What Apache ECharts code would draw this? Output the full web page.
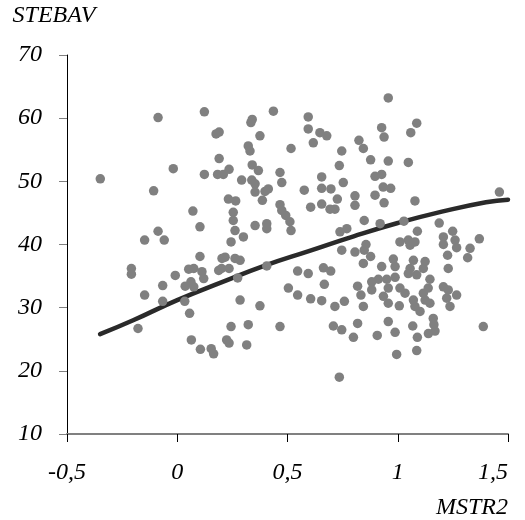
<!DOCTYPE html>
<html>
<head>
<meta charset="utf-8">
<script src="https://cdn.jsdelivr.net/npm/echarts@6/dist/echarts.min.js"></script>
<style>
html,body{margin:0;padding:0;background:#fff;}
#chart{width:525px;height:520px;}
</style>
</head>
<body>
<div id="chart"></div>
<script>
// MSTR2 values (x) of the scattered observations
const mstr2 = [
  -0.087,0.123,0.176,0.19,0.19,-0.018,0.123,0.183,-0.349,-0.107,0.071,0.103,-0.087,-0.148,-0.059,0.103,0.203,
  0.436,0.340,0.334,0.594,0.594,0.647,0.678,0.617,0.375,0.322,0.330,0.516,0.824,0.844,0.746,0.735,0.340,0.368,
  0.235,0.209,0.466,0.292,0.338,0.353,0.474,0.655,0.753,0.655,0.697,0.576,0.413,0.398,0.353,0.232,0.265,0.386,
  0.726,0.806,0.806,0.466,0.474,0.492,0.511,0.516,0.605,0.655,0.693,0.715,0.254,0.254,0.353,0.406,0.406,0.262,
  0.300,0.244,0.738,0.769,0.848,0.746,0.806,0.848,0.217,0.262,0.285,
  0.957,1.086,1.059,0.927,0.938,0.877,0.957,1.048,0.897,0.927,0.934,0.968,0.897,0.938,1.078,1.461,0.920,1.028,
  1.188,1.089,1.249,1.370,1.207,1.207,1.260,1.267,1.328,1.010,1.048,1.056,1.078,0.856,0.877,1.226,1.317,0.980,
  1.071,1.124,
  -0.208,-0.208,-0.009,0.052,0.075,0.112,0.120,0.188,-0.066,0.036,0.062,0.075,-0.148,-0.066,0.034,0.056,-0.178,
  0.064,0.105,0.154,0.165,
  0.201,0.235,0.274,0.406,0.546,0.594,0.663,0.696,0.667,0.504,0.546,0.605,0.655,0.285,0.375,0.715,0.758,0.818,
  0.833,0.844,0.844,0.244,0.322,0.466,0.224,0.235,0.315,0.708,0.746,0.818,0.799,0.735,
  0.927,0.988,1.056,1.048,1.086,1.116,1.229,1.146,0.988,0.950,0.912,0.882,0.882,0.957,0.935,0.957,1.010,1.033,
  1.007,1.071,1.078,1.101,1.116,1.138,1.124,1.146,1.207,1.229,1.267,1.222,1.237,0.957,0.988,0.907,1.068,1.089,
  1.161,1.164,1.169,1.139,1.388,0.995,1.086
];
// STEBAV values (y) of the same observations
const stebav = [
  60.1,61.0,57.5,57.8,53.6,52.0,51.1,51.1,50.4,48.5,45.3,42.8,42.1,40.7,40.7,38.1,37.8,
  61.1,59.8,59.3,60.2,58.3,57.7,57.2,56.1,57.2,55.6,54.8,55.2,56.5,55.2,54.8,52.5,52.6,51.7,
  51.9,51.1,51.4,50.2,50.2,49.6,49.8,50.7,49.8,48.9,48.8,48.6,48.8,48.4,48.3,47.2,46.9,47.0,
  47.2,47.7,46.2,46.3,45.4,44.6,43.6,42.2,45.9,46.4,45.6,45.6,45.1,43.8,43.0,43.3,42.5,42.2,
  41.2,40.4,42.0,42.5,43.8,39.1,38.8,39.1,38.0,37.8,37.5,
  63.2,59.2,57.7,58.5,57.0,53.4,53.2,53.0,50.8,51.1,49.1,48.9,47.8,46.6,46.9,48.3,43.3,43.7,
  43.4,42.1,42.1,40.9,41.2,40.0,40.7,39.5,39.4,40.4,40.7,39.9,40.4,40.0,38.1,38.3,37.9,37.7,
  37.5,37.3,
  36.2,35.3,35.1,36.1,36.2,35.7,34.6,35.9,33.5,33.4,34.1,33.3,32.0,31.0,31.0,29.1,26.7,
  24.9,23.4,23.5,22.7,
  36.2,36.2,34.7,36.6,35.8,35.4,36.3,35.8,33.7,33.1,32.0,31.4,31.1,31.2,30.3,30.2,31.0,33.4,
  32.0,30.2,37.0,27.0,27.3,27.0,24.9,24.4,24.1,27.1,26.5,27.5,25.3,19.0,
  36.5,36.5,36.2,35.4,35.2,36.2,36.2,34.5,34.8,34.5,34.5,34.1,32.8,33.1,31.8,30.7,33.1,32.3,
  30.3,31.2,30.2,29.4,32.3,33.1,31.2,30.7,33.3,32.8,32.0,31.5,30.2,27.8,26.1,25.6,27.1,25.3,
  28.3,27.3,26.3,25.9,27.0,22.6,23.2
];
// Fitted curve
const curveX = [-0.35,-0.2,0,0.2,0.4,0.6,0.8,1.0,1.2,1.4,1.5];
const curveY = [25.8,28.0,31.2,34.0,36.7,39.0,41.3,43.4,45.2,46.7,47.1];
// Axis ticks
const xTicks = [-0.5,0,0.5,1,1.5];
const yTicks = [10,20,30,40,50,60,70];

const pts = mstr2.map((x,i)=>[x, stebav[i]]);
const curve = curveX.map((x,i)=>[x, curveY[i]]);

const FAM = '"Liberation Serif", "Times New Roman", serif';
function nameFont(extra){
  return Object.assign({fontFamily:FAM, fontStyle:'italic', fontWeight:'normal', fontSize:24, color:'#000'}, extra||{});
}
// tick labels: style passed through the weight slot so the font string reads "italic 24px ..."
function labelFont(extra){
  return Object.assign({fontFamily:FAM, fontWeight:'italic', fontSize:24, color:'#000'}, extra||{});
}

const chart = echarts.init(document.getElementById('chart'), null, {renderer:'canvas'});
chart.setOption({
  animation:false,
  backgroundColor:'#fff',
  textStyle:{fontFamily:FAM},
  grid:{left:67, right:17, top:55, bottom:83.3, containLabel:false},
  xAxis:{
    type:'value', min:xTicks[0], max:xTicks[xTicks.length-1], interval:0.5,
    name:'MSTR2', nameLocation:'end', nameGap:0,
    nameTextStyle:nameFont({align:'right', verticalAlign:'top', padding:[62,0,0,0]}),
    axisLine:{show:true, onZero:false, lineStyle:{color:'#808080', width:2}},
    axisTick:{show:true, length:8, lineStyle:{color:'#000', width:1}},
    splitLine:{show:false},
    axisLabel:labelFont({margin:27, alignMaxLabel:'right',
      formatter:v=>String(v).replace('.', ',')})
  },
  yAxis:{
    type:'value', min:yTicks[0], max:yTicks[yTicks.length-1], interval:10,
    name:'STEBAV', nameLocation:'end', nameGap:27,
    nameTextStyle:nameFont({padding:[0,26,0,0]}),
    axisLine:{show:true, onZero:false, lineStyle:{color:'#000', width:1}},
    axisTick:{show:true, length:8, lineStyle:{color:'#808080', width:1}},
    splitLine:{show:false},
    axisLabel:labelFont({margin:25})
  },
  series:[
    {type:'line', data:curve, smooth:true, showSymbol:false, symbol:'none', z:2,
     lineStyle:{color:'#2a2a2a', width:4.5, cap:'round'}},
    {type:'scatter', data:pts, symbol:'circle', symbolSize:9.5, z:3,
     itemStyle:{color:'#808080', opacity:1}}
  ]
});
</script>
</body>
</html>
